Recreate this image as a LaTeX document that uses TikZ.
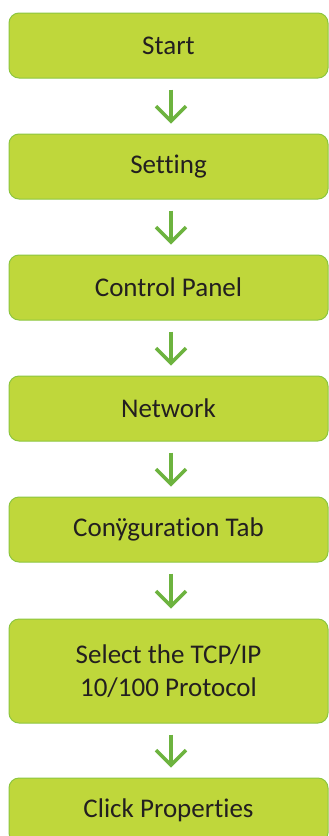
\documentclass[tikz,border=0pt]{standalone}
\usepackage{fontspec}
\setmainfont[Ligatures=NoCommon]{Carlito}
\usetikzlibrary{arrows.meta}
\definecolor{boxfill}{HTML}{BFD73B}
\definecolor{boxline}{HTML}{8CC63F}
\definecolor{arrowgreen}{HTML}{6DB33F}
\definecolor{txt}{HTML}{231F20}
\tikzset{
  stepbox/.style={draw=boxline, line width=1pt, fill=boxfill, rounded corners=10pt,
    minimum width=319pt, minimum height=65pt, inner sep=0pt, align=center,
    text=txt, font=\fontsize{27pt}{33pt}\selectfont},
  flow/.style={draw=arrowgreen, line width=3.5pt,
    -{Straight Barb[length=15pt,width=30pt,line width=3.5pt]}}
}
\begin{document}
\begin{tikzpicture}[x=1pt,y=-1pt]
\useasboundingbox (0,0) rectangle (329,836);
\clip (0,0) rectangle (329,836);
\node[stepbox] (b1) at (168.5,45.5) {Start};
\node[stepbox] (b2) at (168.5,166.5) {Setting};
\node[stepbox] (b3) at (168.5,287.5) {Control Panel};
\node[stepbox] (b4) at (168.5,408.5) {Network};
\node[stepbox] (b5) at (168.5,529.5) {Conÿguration Tab};
\node[stepbox, minimum height=104pt] (b6) at (168.5,671) {Select the TCP/IP\\10/100 Protocol};
\node[stepbox] (b7) at (168.5,810.5) {Click Properties};
\foreach \a/\b in {b1/b2,b2/b3,b3/b4,b4/b5,b5/b6,b6/b7}
  \draw[flow] ([xshift=2.5pt,yshift=-11pt]\a.south) -- ([xshift=2.5pt,yshift=10pt]\b.north);
\end{tikzpicture}
\end{document}
